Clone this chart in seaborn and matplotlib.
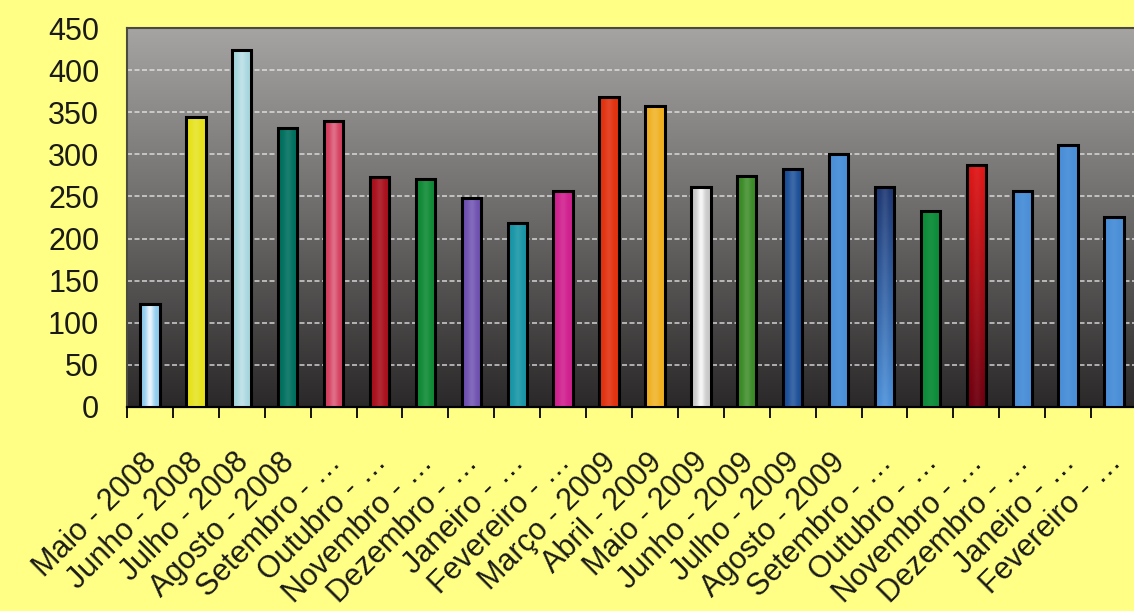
import numpy as np
import pandas as pd
import matplotlib
matplotlib.use("Agg")
import matplotlib.pyplot as plt
import matplotlib.transforms as mtransforms
from matplotlib.colors import to_rgb, LinearSegmentedColormap
import seaborn as sns

# data
months = ["Maio - 2008", "Junho - 2008", "Julho - 2008", "Agosto - 2008",
          "Setembro - …", "Outubro - …", "Novembro - …", "Dezembro - …",
          "Janeiro - …", "Fevereiro - …", "Março - 2009", "Abril - 2009",
          "Maio - 2009", "Junho - 2009", "Julho - 2009", "Agosto - 2009",
          "Setembro - …", "Outubro - …", "Novembro - …", "Dezembro - …",
          "Janeiro - …", "Fevereiro - …"]
values = [122, 344, 424, 331, 339, 273, 271, 248, 219, 256, 368, 357,
          261, 274, 283, 300, 261, 233, 287, 257, 311, 226]

# bar looks: colour at top, colour at bottom, amount of centre shine
bar_top = ["#8ECBEE", "#E6E21A", "#A6D6DE", "#00705F", "#D43E5E", "#A8101C",
           "#0F8A35", "#6E50B0", "#1896A6", "#D0208E", "#E2320F", "#F0B020",
           "#C8C8C8", "#3A8A25", "#1A4E98", "#4A8FD8", "#1C3672", "#0E8C3A",
           "#E01818", "#4A8FD8", "#4A8FD8", "#4A8FD8"]
bar_bottom = ["#8ECBEE", "#E6E21A", "#A6D6DE", "#00705F", "#D43E5E", "#A8101C",
              "#0F8A35", "#6E50B0", "#1896A6", "#D0208E", "#E2320F", "#F0B020",
              "#C8C8C8", "#3A8A25", "#1A4E98", "#4A8FD8", "#4A8FD8", "#0E8C3A",
              "#6E0010", "#4A8FD8", "#4A8FD8", "#4A8FD8"]
bar_shine = [0.8, 0.15, 0.3, 0.1, 0.25, 0.1, 0.1, 0.15, 0.1, 0.1, 0.1, 0.15,
             0.85, 0.15, 0.15, 0.05, 0.1, 0.05, 0.05, 0.05, 0.05, 0.05]

yellow = "#FFFF85"

df = pd.DataFrame({"key": [f"m{i:02d}" for i in range(len(values))], "value": values})

fig = plt.figure(figsize=(11.34, 6.11), dpi=100, facecolor=yellow)
W, H = 1134, 611
ax = fig.add_axes([127 / W, (H - 407) / H, (1137 - 127) / W, (407 - 28) / H])

sns.barplot(data=df, x="key", y="value", hue="key", palette=dict(zip(df["key"], bar_top)),
            legend=False, width=0.42, saturation=1, edgecolor="black", linewidth=2.2, ax=ax)

# plot area gradient, light grey at top to near black at the base
bg_cmap = LinearSegmentedColormap.from_list("bg", ["#2A2828", "#6C6969", "#A6A3A3"])
grad = np.linspace(0, 1, 256)[::-1, None]
ax.imshow(grad, cmap=bg_cmap, extent=[-0.5, len(values) - 0.5, 0, 450],
          aspect="auto", zorder=0, origin="upper")

for yv in range(50, 450, 50):
    ax.axhline(yv, color="#E8E8E8", lw=1.2, ls=(0, (3, 1.5)), alpha=0.8, zorder=1)

# shaded fill for each bar, clipped to the bar outline
for patch, ct, cb, s in zip(ax.patches, bar_top, bar_bottom, bar_shine):
    x0, y0 = patch.get_x(), patch.get_y()
    w, h = patch.get_width(), patch.get_height()
    t = np.linspace(0, 1, 64)[:, None, None]
    base = (1 - t) * np.array(to_rgb(ct)) + t * np.array(to_rgb(cb))
    xs = np.linspace(-1, 1, 40)[None, :, None]
    prof = s * np.exp(-(xs / 0.4) ** 2)
    img = np.clip(base + (1 - base) * prof, 0, 1)
    im = ax.imshow(img, extent=[x0, x0 + w, y0, y0 + h], origin="upper",
                   aspect="auto", zorder=3)
    im.set_clip_path(patch)
    patch.set_facecolor("none")
    patch.set_zorder(4)

ax.set_xlim(-0.5, len(values) - 0.5)
ax.set_ylim(0, 450)
ax.set_yticks(range(0, 451, 50))
ax.tick_params(axis="y", length=0, pad=20, labelsize=22, labelcolor="#1A1A1A")

ax.set_xticks(range(len(values)))
ax.set_xticklabels(months, rotation=45, ha="right", va="top",
                   rotation_mode="anchor", fontsize=22, color="#1A1A1A")
ax.set_xticks(np.arange(-0.5, len(values), 1), minor=True)
ax.tick_params(axis="x", which="major", length=0, pad=29)
ax.tick_params(axis="x", which="minor", length=8, width=1.3, color="black", direction="out")
shift = mtransforms.ScaledTranslation(-8 / 100, 0, fig.dpi_scale_trans)
for lab in ax.get_xticklabels():
    lab.set_transform(lab.get_transform() + shift)

ax.set_xlabel("")
ax.set_ylabel("")
for side in ["top", "left", "right"]:
    ax.spines[side].set_color("#4A4A40")
    ax.spines[side].set_linewidth(1.5)
ax.spines["bottom"].set_color("black")
ax.spines["bottom"].set_linewidth(1.6)

for lab in ax.get_xticklabels() + ax.get_yticklabels():
    lab.set_family(["Liberation Sans", "DejaVu Sans"])

fig.savefig("out.png", dpi=100, facecolor=yellow)
